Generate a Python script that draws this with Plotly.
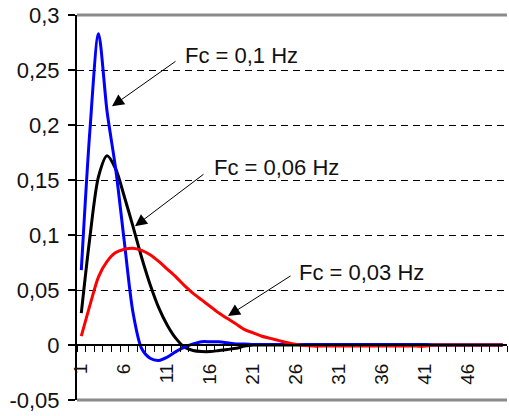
import plotly.graph_objects as go

categories = list(range(1, 51))

fc_01 = [0.068, 0.195, 0.283, 0.212, 0.160, 0.094, 0.030, -0.003, -0.012, -0.014,
         -0.011, -0.006, -0.002, 0.001, 0.003, 0.003, 0.003, 0.002, 0.001, 0.001,
         0.0005, 0.0005, 0.0005, 0.0005, 0.0005, 0.0005, 0.0005, 0.0005, 0.0005, 0.0005,
         0.0005, 0.0005, 0.0005, 0.0005, 0.0005, 0.0005, 0.0005, 0.0005, 0.0005, 0.0005,
         0.0005, 0.0, 0.0, 0.0, 0.0, 0.0, 0.0, 0.0, 0.0, 0.0]

fc_006 = [0.029, 0.098, 0.153, 0.172, 0.160, 0.135, 0.108, 0.080, 0.055, 0.034,
          0.018, 0.006, -0.002, -0.005, -0.006, -0.006, -0.005, -0.004, -0.003, -0.001,
          0.0, 0.0, 0.0, 0.0, 0.0, 0.0, 0.0, 0.0, 0.0, 0.0,
          0.0, 0.0, 0.0, 0.0, 0.0, 0.0, 0.0, 0.0, 0.0, 0.0,
          0.0, 0.0, 0.0, 0.0, 0.0, 0.0, 0.0, 0.0, 0.0, 0.0]

fc_003 = [0.008, 0.036, 0.062, 0.076, 0.084, 0.087, 0.088, 0.086, 0.082, 0.076,
          0.069, 0.062, 0.054, 0.047, 0.041, 0.035, 0.029, 0.024, 0.019, 0.014,
          0.011, 0.008, 0.006, 0.004, 0.002, 0.0005, -0.0005, -0.001, -0.001, -0.001,
          -0.001, -0.001, -0.001, -0.001, -0.001, -0.001, -0.001, -0.001, -0.001, -0.001,
          -0.001, 0.0, 0.0, 0.0, 0.0, 0.0, 0.0, 0.0, 0.0, 0.0]

x_tick_vals = [1, 6, 11, 16, 21, 26, 31, 36, 41, 46]
x_tick_text = ["1", "6", "11", "16", "21", "26", "31", "36", "41", "46"]
y_tick_vals = [-0.05, 0, 0.05, 0.1, 0.15, 0.2, 0.25, 0.3]
y_tick_text = ["-0,05", "0", "0,05", "0,1", "0,15", "0,2", "0,25", "0,3"]

labels = ["Fc = 0,1 Hz", "Fc = 0,06 Hz", "Fc = 0,03 Hz"]

FONT = "Liberation Sans, Arial, sans-serif"

fig = go.Figure()
fig.add_trace(go.Scatter(x=categories, y=fc_006, mode="lines",
                         line=dict(color="#000000", width=3, shape="spline", smoothing=0.8),
                         showlegend=False, hoverinfo="skip"))
fig.add_trace(go.Scatter(x=categories, y=fc_01, mode="lines",
                         line=dict(color="#0000FF", width=3, shape="spline", smoothing=0.8),
                         showlegend=False, hoverinfo="skip"))
fig.add_trace(go.Scatter(x=categories, y=fc_003, mode="lines",
                         line=dict(color="#FF0000", width=3, shape="spline", smoothing=0.8),
                         showlegend=False, hoverinfo="skip"))

# arrows (tip in data coords, tail offset in px)
arrows = [
    (4.57, 0.217, 65, -46),
    (7.24, 0.108, 70, -53),
    (18.06, 0.0264, 64, -41),
]
for (xt, yt, ax, ay) in arrows:
    fig.add_annotation(x=xt, y=yt, ax=ax, ay=ay, text="", showarrow=True,
                       arrowhead=2, arrowsize=2.4, arrowwidth=1, arrowcolor="#000000")

text_pos = [(12.83, 0.2636), (16.2, 0.161), (26.08, 0.0655)]
for (xt, yt), lab in zip(text_pos, labels):
    fig.add_annotation(x=xt, y=yt, text=lab, showarrow=False, xanchor="left",
                       yanchor="middle", font=dict(family=FONT, size=22, color="#111111"))

# plot area top/bottom borders
for yy in (0, 1):
    fig.add_shape(type="line", xref="paper", yref="paper", x0=0, x1=1, y0=yy, y1=yy,
                  line=dict(color="#8a8a8a", width=3))

fig.update_layout(
    width=509, height=416,
    margin=dict(l=77, r=2, t=15, b=16),
    paper_bgcolor="white", plot_bgcolor="white",
    font=dict(family=FONT, size=20, color="#111111"),
    xaxis=dict(range=[0.5, 50.5], anchor="free", position=0.05 / 0.35,
               automargin=False,
               showline=True, linecolor="#000000", linewidth=2,
               showgrid=False, zeroline=False,
               tickmode="array", tickvals=x_tick_vals, ticktext=x_tick_text,
               ticks="", tickangle=-90, ticklabelstandoff=10,
               tickfont=dict(family=FONT, size=19, color="#111111"),
               minor=dict(ticks="outside", ticklen=6, tickwidth=1, tickcolor="#000000",
                          tick0=0.5, dtick=1, showgrid=False)),
    yaxis=dict(range=[-0.05, 0.3], automargin=False,
               showline=True, linecolor="#000000", linewidth=2,
               showgrid=True, gridcolor="#000000", gridwidth=1, griddash="7px,5px",
               zeroline=False, tickmode="array", tickvals=y_tick_vals, ticktext=y_tick_text,
               ticks="outside", ticklen=7, tickwidth=2, tickcolor="#000000",
               ticklabelstandoff=4,
               tickfont=dict(family=FONT, size=22, color="#111111")),
)

fig.write_html("out.html", config={"displayModeBar": False},
               post_script="document.body.style.margin='0';")
